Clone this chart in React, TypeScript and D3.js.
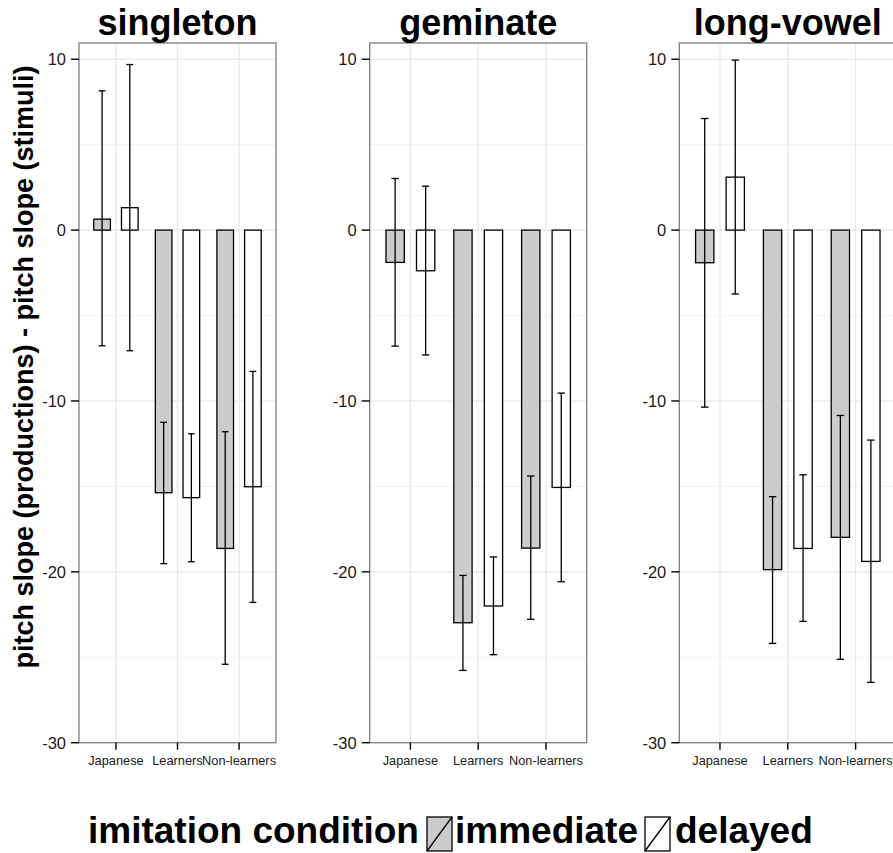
import React from "react";
import * as d3 from "d3";

// Group categories on the x axis of each facet
const categories = ["Japanese", "Learners", "Non-learners"];
const facets = ["singleton", "geminate", "long-vowel"];
const conditions = ["immediate", "delayed"];

// Mean pitch-slope difference and error-bar limits, per facet and condition
const singletonImmediate = [0.64, -15.37, -18.63];
const singletonImmediateLo = [-6.77, -19.52, -25.41];
const singletonImmediateHi = [8.15, -11.25, -11.8];
const singletonDelayed = [1.31, -15.66, -15.02];
const singletonDelayedLo = [-7.06, -19.41, -21.79];
const singletonDelayedHi = [9.69, -11.92, -8.27];

const geminateImmediate = [-1.89, -22.98, -18.61];
const geminateImmediateLo = [-6.79, -25.77, -22.78];
const geminateImmediateHi = [3.02, -20.21, -14.39];
const geminateDelayed = [-2.38, -22.0, -15.06];
const geminateDelayedLo = [-7.31, -24.85, -20.58];
const geminateDelayedHi = [2.57, -19.13, -9.54];

const longVowelImmediate = [-1.91, -19.87, -17.98];
const longVowelImmediateLo = [-10.36, -24.19, -25.12];
const longVowelImmediateHi = [6.53, -15.6, -10.85];
const longVowelDelayed = [3.1, -18.63, -19.39];
const longVowelDelayedLo = [-3.74, -22.9, -26.47];
const longVowelDelayedHi = [9.95, -14.32, -12.29];

const yTicks = [-30, -20, -10, 0, 10];
const yMinorTicks = [-25, -15, -5, 5];

const seriesByFacet = [
  [
    { mean: singletonImmediate, lo: singletonImmediateLo, hi: singletonImmediateHi },
    { mean: singletonDelayed, lo: singletonDelayedLo, hi: singletonDelayedHi },
  ],
  [
    { mean: geminateImmediate, lo: geminateImmediateLo, hi: geminateImmediateHi },
    { mean: geminateDelayed, lo: geminateDelayedLo, hi: geminateDelayedHi },
  ],
  [
    { mean: longVowelImmediate, lo: longVowelImmediateLo, hi: longVowelImmediateHi },
    { mean: longVowelDelayed, lo: longVowelDelayedLo, hi: longVowelDelayedHi },
  ],
];

// Layout
const W = 893;
const H = 853;
const panelTop = 43;
const panelBottom = 742.7;
const panelLefts = [79, 369.7, 679.3];
const panelWidths = [197, 217, 217];
const fills = ["#cccccc", "#ffffff"];
const dodge = 0.45;
const barWidth = 0.27;
const capWidth = 0.11;
const font = "'Liberation Sans', Arial, Helvetica, sans-serif";

function Panel({ idx }: { idx: number }) {
  const left = panelLefts[idx];
  const right = left + panelWidths[idx];
  const y = d3.scaleLinear().domain([-30, 10.95]).range([panelBottom, panelTop]);
  const x = d3.scaleLinear().domain([-0.6, categories.length - 0.4]).range([left, right]);
  const unit = x(1) - x(0);
  const series = seriesByFacet[idx];

  return (
    <g>
      <rect x={left} y={panelTop} width={right - left} height={panelBottom - panelTop} fill="#ffffff" />
      {yMinorTicks.map((t) => (
        <line key={"m" + t} x1={left} x2={right} y1={y(t)} y2={y(t)} stroke="#f3f3f3" strokeWidth={1.1} />
      ))}
      {yTicks.map((t) => (
        <line key={"g" + t} x1={left} x2={right} y1={y(t)} y2={y(t)} stroke="#e6e6e6" strokeWidth={1.1} />
      ))}
      {categories.map((c, i) => (
        <line key={"v" + c} x1={x(i)} x2={x(i)} y1={panelTop} y2={panelBottom} stroke="#e6e6e6" strokeWidth={1.1} />
      ))}
      {series.map((s, si) =>
        s.mean.map((v, i) => {
          const cx = x(i) + (si === 0 ? -1 : 1) * (dodge / 2) * unit;
          const y0 = y(0);
          const yv = y(v);
          return (
            <rect
              key={"b" + si + i}
              x={cx - (barWidth / 2) * unit}
              y={Math.min(y0, yv)}
              width={barWidth * unit}
              height={Math.abs(yv - y0)}
              fill={fills[si]}
              stroke="#000"
              strokeWidth={1.3}
            />
          );
        })
      )}
      {series.map((s, si) =>
        s.mean.map((_, i) => {
          const cx = x(i) + (si === 0 ? -1 : 1) * (dodge / 2) * unit;
          const hw = (capWidth / 2) * unit;
          return (
            <g key={"e" + si + i} stroke="#000" strokeWidth={1.3}>
              <line x1={cx} x2={cx} y1={y(s.hi[i])} y2={y(s.lo[i])} />
              <line x1={cx - hw} x2={cx + hw} y1={y(s.hi[i])} y2={y(s.hi[i])} />
              <line x1={cx - hw} x2={cx + hw} y1={y(s.lo[i])} y2={y(s.lo[i])} />
            </g>
          );
        })
      )}
      <rect
        x={left}
        y={panelTop}
        width={right - left}
        height={panelBottom - panelTop}
        fill="none"
        stroke="#7f7f7f"
        strokeWidth={1.3}
      />
      {yTicks.map((t) => (
        <g key={"yt" + t}>
          <line x1={left - 8} x2={left} y1={y(t)} y2={y(t)} stroke="#000" strokeWidth={1.4} />
          <text
            x={left - 13}
            y={y(t)}
            dy="0.36em"
            textAnchor="end"
            fontFamily={font}
            fontSize={16.5}
            fill="#1a1a1a"
          >
            {t}
          </text>
        </g>
      ))}
      {categories.map((c, i) => (
        <g key={"xt" + c}>
          <line x1={x(i)} x2={x(i)} y1={panelBottom} y2={panelBottom + 7} stroke="#000" strokeWidth={1.4} />
          <text x={x(i)} y={765} textAnchor="middle" fontFamily={font} fontSize={12.8} fill="#1a1a1a">
            {c}
          </text>
        </g>
      ))}
      <text
        x={(left + left + panelWidths[idx]) / 2}
        y={35}
        textAnchor="middle"
        fontFamily={font}
        fontWeight="bold"
        fontSize={36}
        fill="#000"
      >
        {facets[idx]}
      </text>
    </g>
  );
}

function LegendKey({ x, y, fill }: { x: number; y: number; fill: string }) {
  const w = 25;
  const h = 34;
  return (
    <g>
      <rect x={x} y={y} width={w} height={h} fill={fill} stroke="#000" strokeWidth={1.3} />
      <line x1={x} y1={y + h} x2={x + w} y2={y} stroke="#000" strokeWidth={1.3} />
    </g>
  );
}

export default function App() {
  return (
    <svg
      width={W}
      height={H}
      viewBox={`0 0 ${W} ${H}`}
      style={{ position: "absolute", left: 0, top: 0, background: "#fff" }}
    >
      <rect width={W} height={H} fill="#fff" />
      {facets.map((f, i) => (
        <Panel key={f} idx={i} />
      ))}
      <text
        transform="translate(33,367) rotate(-90)"
        textAnchor="middle"
        fontFamily={font}
        fontWeight="bold"
        fontSize={27}
        fill="#000"
      >
        pitch slope (productions) - pitch slope (stimuli)
      </text>
      <g fontFamily={font} fontWeight="bold" fontSize={37} fill="#000">
        <text x={88} y={843}>imitation condition</text>
        <LegendKey x={427} y={817} fill={fills[0]} />
        <text x={455} y={843}>{conditions[0]}</text>
        <LegendKey x={645} y={817} fill={fills[1]} />
        <text x={675} y={843}>{conditions[1]}</text>
      </g>
    </svg>
  );
}
